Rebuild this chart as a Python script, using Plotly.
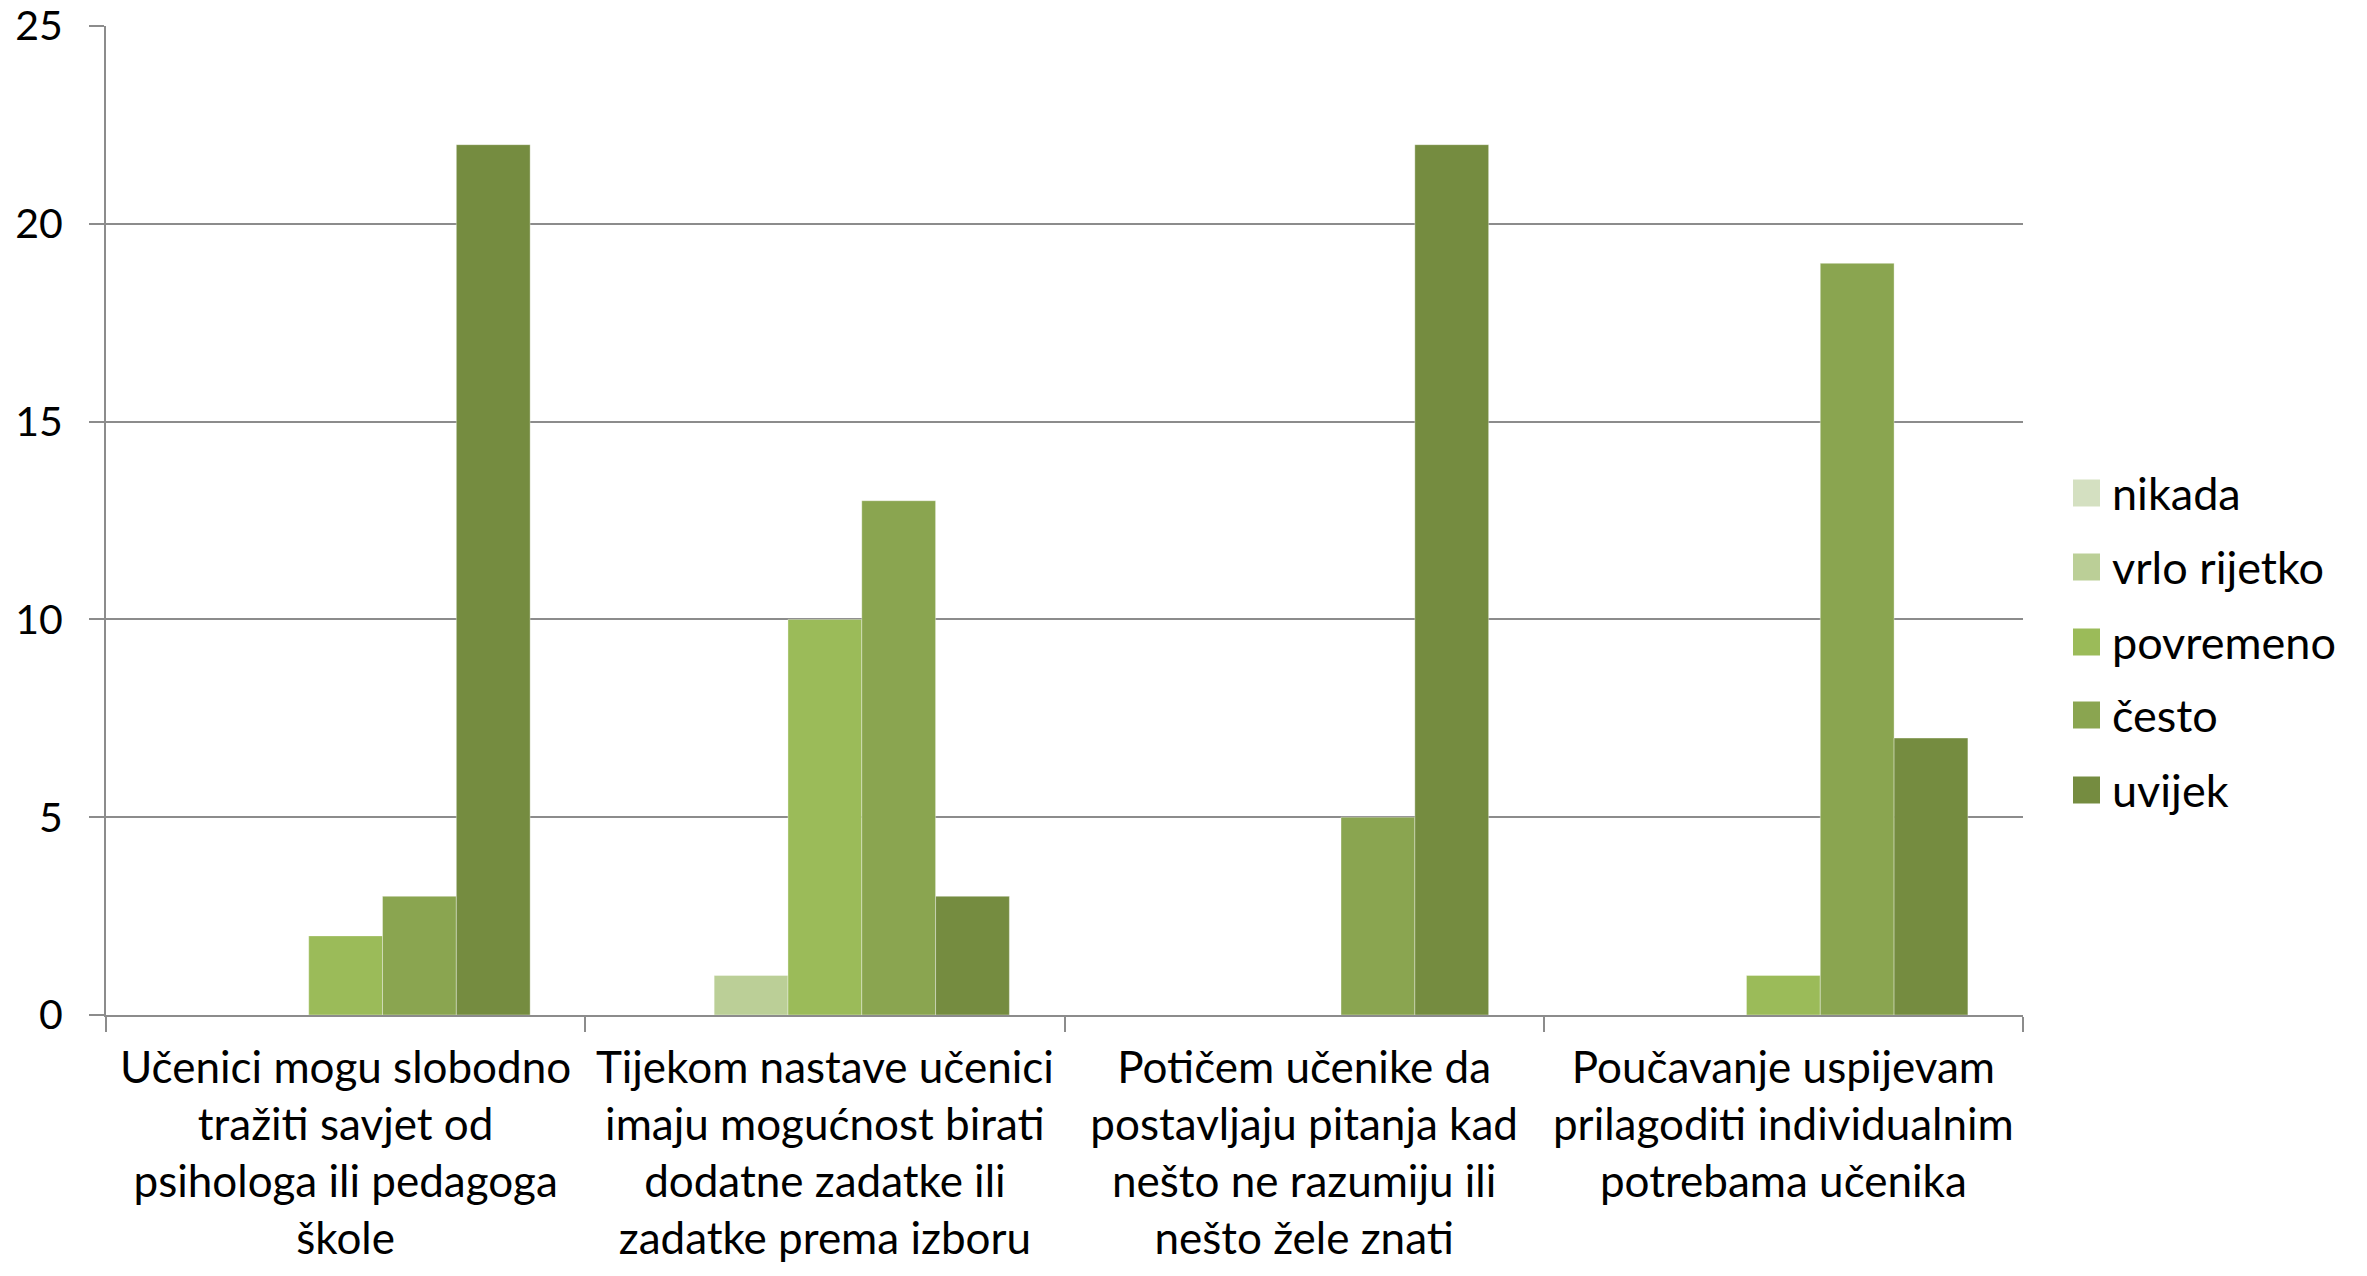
import plotly.graph_objects as go

categories = [
    "Učenici mogu slobodno<br>tražiti savjet od<br>psihologa ili pedagoga<br>škole",
    "Tijekom nastave učenici<br>imaju mogućnost birati<br>dodatne zadatke ili<br>zadatke prema izboru",
    "Potičem učenike da<br>postavljaju pitanja kad<br>nešto ne razumiju ili<br>nešto žele znati",
    "Poučavanje uspijevam<br>prilagoditi individualnim<br>potrebama učenika",
]
series_names = ["nikada", "vrlo rijetko", "povremeno", "često", "uvijek"]
nikada = [0, 0, 0, 0]
vrlo_rijetko = [0, 1, 0, 0]
povremeno = [2, 10, 0, 1]
cesto = [3, 13, 5, 19]
uvijek = [22, 3, 22, 7]
colors = ["#D4E0C1", "#BBCF97", "#9BBB59", "#8AA550", "#758C40"]
y_ticks = [0, 5, 10, 15, 20, 25]

values = [nikada, vrlo_rijetko, povremeno, cesto, uvijek]

FONT = "Lato"
OFF = 8  # default page body margin
W, H = 2351, 1260
L, T = 106 - OFF, 26 - OFF
pw, ph = 2023 - 106, 1015 - 26
R, B = W - L - pw, H - T - ph

fig = go.Figure()
for name, vals, col in zip(series_names, values, colors):
    fig.add_trace(go.Bar(
        x=categories, y=vals, name=name,
        marker=dict(color=col, line=dict(color="rgba(255,255,255,0.35)", width=1)),
        showlegend=False,
    ))

# manual legend (large square swatches like the reference)
leg_x0 = 2073 - OFF
leg_ys = [y - OFF for y in [493, 567, 642, 715, 790]]
sw = 27
shapes = []
annotations = []
for name, col, cy in zip(series_names, colors, leg_ys):
    shapes.append(dict(
        type="rect", xref="paper", yref="paper",
        x0=(leg_x0 - L) / pw, x1=(leg_x0 + sw - L) / pw,
        y0=(H - B - (cy + sw / 2)) / ph, y1=(H - B - (cy - sw / 2)) / ph,
        fillcolor=col, line=dict(width=0),
    ))
    annotations.append(dict(
        xref="paper", yref="paper", x=(leg_x0 + sw + 10 - L) / pw, y=(H - B - cy) / ph,
        text=name, showarrow=False, xanchor="left", yanchor="middle",
        font=dict(family=FONT, size=45, color="#000000"),
    ))

fig.update_layout(
    width=W, height=H,
    margin=dict(l=L, r=R, t=T, b=B, pad=0, autoexpand=False),
    paper_bgcolor="white", plot_bgcolor="white",
    barmode="group", bargap=0.23, bargroupgap=0,
    showlegend=False,
    shapes=shapes, annotations=annotations,
    font=dict(family=FONT, size=44, color="#000000"),
)
fig.update_yaxes(
    range=[0, 25], tickvals=y_ticks, ticktext=[str(v) for v in y_ticks],
    showgrid=True, gridcolor="#8C8C8C", gridwidth=1.5,
    zeroline=False, automargin=False, ticklabeloverflow="allow",
    showline=True, linecolor="#8C8C8C", linewidth=2,
    ticks="outside", ticklen=15, tickcolor="#8C8C8C", tickwidth=1.5,
    ticklabelstandoff=18,
    tickfont=dict(family=FONT, size=41, color="#000000"),
)
fig.update_xaxes(
    showline=True, linecolor="#8C8C8C", linewidth=2, automargin=False,
    ticklabeloverflow="allow",
    ticks="outside", ticklen=15, tickcolor="#8C8C8C", tickwidth=1.5,
    tickson="boundaries",
    ticklabelstandoff=13,
    tickfont=dict(family=FONT, size=44, color="#000000"),
    tickangle=0,
)

fig.write_html("out.html")
